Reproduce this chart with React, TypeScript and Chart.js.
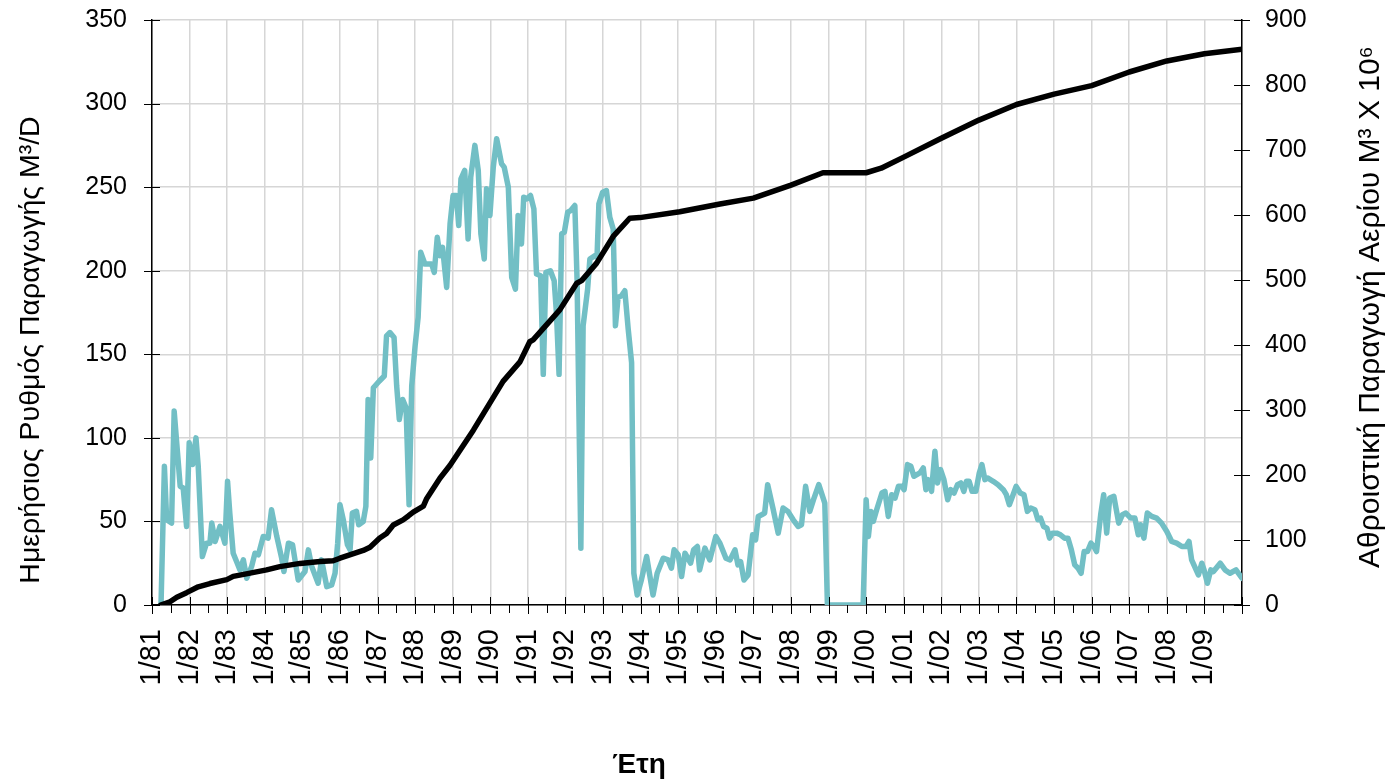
import React, { useEffect, useRef } from 'react';
import { Chart, registerables } from 'chart.js';

Chart.register(...registerables);

// Year ticks on the time axis (one per January)
const firstYear = 1981;
const lastYear = 2010;
const yearLabels = [
  '1/81', '1/82', '1/83', '1/84', '1/85', '1/86', '1/87', '1/88', '1/89', '1/90',
  '1/91', '1/92', '1/93', '1/94', '1/95', '1/96', '1/97', '1/98', '1/99', '1/00',
  '1/01', '1/02', '1/03', '1/04', '1/05', '1/06', '1/07', '1/08', '1/09',
];

// Daily production rate (M3/D), dated in fractional years
const rateYears = [
  1981.24, 1981.33, 1981.39, 1981.52, 1981.59, 1981.75, 1981.83, 1981.92, 1981.99, 1982.08,
  1982.17, 1982.23, 1982.34, 1982.45, 1982.54, 1982.59, 1982.68, 1982.81, 1982.94, 1983.01,
  1983.07, 1983.16, 1983.25, 1983.34, 1983.43, 1983.52, 1983.65, 1983.74, 1983.83, 1983.96,
  1984.09, 1984.18, 1984.32, 1984.45, 1984.51, 1984.63, 1984.74, 1984.89, 1985.07, 1985.16,
  1985.25, 1985.42, 1985.51, 1985.65, 1985.78, 1985.87, 1985.94, 1986.0, 1986.09, 1986.2,
  1986.27, 1986.33, 1986.44, 1986.5, 1986.62, 1986.69, 1986.75, 1986.82, 1986.89, 1987.05,
  1987.18, 1987.24, 1987.33, 1987.44, 1987.51, 1987.58, 1987.67, 1987.76, 1987.84, 1987.91,
  1988.0, 1988.08, 1988.15, 1988.26, 1988.44, 1988.51, 1988.59, 1988.66, 1988.73, 1988.84,
  1988.93, 1989.01, 1989.1, 1989.16, 1989.22, 1989.32, 1989.41, 1989.48, 1989.59, 1989.68,
  1989.75, 1989.84, 1989.9, 1989.99, 1990.08, 1990.17, 1990.3, 1990.37, 1990.48, 1990.57,
  1990.67, 1990.74, 1990.83, 1990.89, 1990.97, 1991.07, 1991.16, 1991.23, 1991.34, 1991.41,
  1991.48, 1991.6, 1991.7, 1991.76, 1991.83, 1991.9, 1991.97, 1992.06, 1992.14, 1992.25,
  1992.31, 1992.41, 1992.47, 1992.59, 1992.65, 1992.78, 1992.84, 1992.89, 1992.99, 1993.09,
  1993.18, 1993.27, 1993.33, 1993.4, 1993.49, 1993.58, 1993.67, 1993.76, 1993.82, 1993.91,
  1994.02, 1994.16, 1994.33, 1994.44, 1994.6, 1994.73, 1994.82, 1994.89, 1995.0, 1995.09,
  1995.18, 1995.33, 1995.41, 1995.51, 1995.57, 1995.71, 1995.84, 1996.0, 1996.11, 1996.27,
  1996.38, 1996.51, 1996.59, 1996.66, 1996.75, 1996.86, 1996.98, 1997.06, 1997.13, 1997.22,
  1997.3, 1997.38, 1997.52, 1997.66, 1997.79, 1997.92, 1998.06, 1998.19, 1998.28, 1998.39,
  1998.5, 1998.6, 1998.74, 1998.9, 1998.97, 1999.92, 2000.0, 2000.06, 2000.13, 2000.19,
  2000.28, 2000.42, 2000.5, 2000.59, 2000.68, 2000.77, 2000.86, 2000.95, 2001.01, 2001.1,
  2001.19, 2001.27, 2001.43, 2001.52, 2001.59, 2001.65, 2001.74, 2001.83, 2001.9, 2001.98,
  2002.07, 2002.17, 2002.25, 2002.34, 2002.43, 2002.52, 2002.6, 2002.67, 2002.74, 2002.82,
  2002.92, 2003.01, 2003.08, 2003.16, 2003.23, 2003.38, 2003.51, 2003.65, 2003.73, 2003.81,
  2003.91, 2003.99, 2004.1, 2004.2, 2004.29, 2004.38, 2004.49, 2004.57, 2004.64, 2004.72,
  2004.81, 2004.88, 2004.96, 2005.07, 2005.17, 2005.28, 2005.37, 2005.46, 2005.55, 2005.64,
  2005.72, 2005.8, 2005.89, 2005.98, 2006.06, 2006.13, 2006.24, 2006.32, 2006.4, 2006.48,
  2006.59, 2006.72, 2006.82, 2006.91, 2007.04, 2007.15, 2007.24, 2007.3, 2007.39, 2007.48,
  2007.6, 2007.73, 2007.86, 2008.0, 2008.13, 2008.26, 2008.4, 2008.51, 2008.59, 2008.66,
  2008.84, 2008.93, 2008.99, 2009.08, 2009.17, 2009.24, 2009.42, 2009.55, 2009.68, 2009.84,
  2010.0,
];
const rateValues = [
  0, 83, 51, 49, 116, 71, 70, 47, 97, 84,
  100, 83, 29, 37, 37, 49, 38, 47, 37, 74,
  55, 31, 26, 21, 27, 16, 23, 31, 30, 41,
  40, 57, 41, 28, 20, 37, 36, 15, 20, 33,
  23, 13, 27, 11, 12, 19, 37, 60, 51, 36,
  33, 55, 56, 48, 50, 59, 123, 88, 130, 134,
  137, 161, 163, 160, 131, 111, 123, 118, 60, 131,
  155, 172, 211, 204, 204, 199, 220, 209, 214, 190,
  228, 245, 245, 227, 255, 260, 219, 256, 275, 260,
  222, 207, 249, 233, 262, 279, 264, 262, 250, 196,
  189, 233, 216, 244, 243, 245, 237, 198, 197, 138,
  199, 200, 194, 175, 138, 222, 223, 235, 236, 239,
  194, 34, 167, 189, 207, 209, 208, 240, 247, 248,
  232, 225, 167, 184, 185, 188, 165, 145, 19, 6,
  15, 29, 6, 19, 28, 27, 22, 33, 30, 17,
  31, 25, 33, 35, 21, 34, 27, 41, 37, 28,
  27, 33, 24, 26, 15, 18, 42, 39, 53, 54,
  55, 72, 58, 43, 58, 56, 51, 47, 48, 71,
  56, 63, 72, 61, 0, 0, 63, 41, 56, 50,
  57, 67, 68, 53, 66, 64, 71, 71, 69, 84,
  83, 77, 79, 82, 69, 75, 68, 92, 73, 81,
  75, 63, 69, 67, 72, 73, 68, 74, 74, 68,
  68, 79, 84, 75, 76, 74, 72, 69, 66, 60,
  66, 71, 67, 66, 56, 58, 57, 51, 52, 47,
  46, 40, 43, 43, 42, 40, 40, 33, 24, 22,
  19, 32, 32, 37, 35, 32, 54, 66, 43, 64,
  65, 49, 54, 55, 52, 52, 42, 48, 40, 55,
  53, 52, 49, 44, 38, 37, 35, 35, 38, 27,
  18, 25, 21, 13, 21, 20, 25, 21, 19, 21,
  16,
];

// Cumulative gas production (M3 x 10^6)
const cumYears = [
  1981.23, 1981.48, 1981.66, 1981.92, 1982.23, 1982.54, 1982.99, 1983.16, 1983.61, 1984.05,
  1984.4, 1984.94, 1985.47, 1985.82, 1986.0, 1986.62, 1986.8, 1987.06, 1987.24, 1987.42,
  1987.68, 1987.82, 1987.95, 1988.22, 1988.31, 1988.66, 1988.93, 1989.55, 1990.34, 1990.79,
  1991.05, 1991.14, 1991.85, 1992.3, 1992.43, 1992.83, 1993.27, 1993.71, 1993.98, 1995.04,
  1996.11, 1997.0, 1998.0, 1998.85, 2000.0, 2000.4, 2001.0, 2002.0, 2003.0, 2004.0,
  2005.0, 2006.0, 2007.0, 2008.0, 2009.0, 2010.0,
];
const cumValues = [
  0, 5, 12, 19, 28, 33, 39, 44, 49, 54,
  59, 64, 67, 68, 72, 84, 89, 103, 110, 123,
  131, 137, 143, 152, 164, 195, 215, 269, 344, 374,
  405, 408, 454, 495, 499, 526, 567, 595, 596, 605,
  617, 626, 646, 665, 665, 672, 689, 718, 746, 770,
  786, 799, 820, 837, 848, 855,
];

const leftTitle = 'Ημερήσιος Ρυθμός Παραγωγής M³/D';
const rightTitle = 'Αθροιστική Παραγωγή Αερίου M³ X 10⁶';
const xTitle = 'Έτη';

const FONT = '"Liberation Sans", Arial, Helvetica, sans-serif';
const TEAL = '#72bfc5';
const GRID = '#d6d6d6';

// Tick marks crossing the axes and the three axis titles
const axisDecor = {
  id: 'axisDecor',
  afterDraw(chart: any) {
    const { ctx, chartArea: a, scales } = chart;
    const x = scales.x;
    const y = scales.y;
    const y1 = scales.y1;
    ctx.save();
    ctx.strokeStyle = '#000';
    ctx.lineWidth = 1;
    ctx.beginPath();
    for (let yr = firstYear; yr <= lastYear; yr++) {
      const px = Math.round(x.getPixelForValue(yr)) + 0.5;
      ctx.moveTo(px, a.bottom - 8);
      ctx.lineTo(px, a.bottom + 9);
      if (yr < lastYear) {
        const ph = Math.round(x.getPixelForValue(yr + 0.5)) + 0.5;
        ctx.moveTo(ph, a.bottom);
        ctx.lineTo(ph, a.bottom + 8);
      }
    }
    for (let v = 0; v <= 350; v += 50) {
      const py = Math.round(y.getPixelForValue(v)) + 0.5;
      ctx.moveTo(a.left - 8, py);
      ctx.lineTo(a.left + 8, py);
    }
    for (let v = 0; v <= 900; v += 100) {
      const py = Math.round(y1.getPixelForValue(v)) + 0.5;
      ctx.moveTo(a.right - 8, py);
      ctx.lineTo(a.right + 8, py);
    }
    ctx.stroke();

    ctx.fillStyle = '#000';
    ctx.textAlign = 'center';
    ctx.textBaseline = 'middle';

    ctx.font = `28.5px ${FONT}`;
    ctx.save();
    ctx.translate(31, 350);
    ctx.rotate(-Math.PI / 2);
    ctx.fillText(leftTitle, 0, 0);
    ctx.restore();

    ctx.font = `30px ${FONT}`;
    ctx.save();
    ctx.translate(1371, 307);
    ctx.rotate(-Math.PI / 2);
    ctx.fillText(rightTitle, 0, 0);
    ctx.restore();

    ctx.font = `bold 28px ${FONT}`;
    ctx.fillText(xTitle, 639, 765);
    ctx.restore();
  },
};

export default function App() {
  const canvasRef = useRef<HTMLCanvasElement | null>(null);

  useEffect(() => {
    const canvas = canvasRef.current;
    if (!canvas) return;

    const rateData = rateYears.map((t, i) => ({ x: t, y: rateValues[i] }));
    const cumData = cumYears.map((t, i) => ({ x: t, y: cumValues[i] }));

    const fitVertical = (width: number) => (scale: any) => {
      scale.width = width;
      scale.paddingTop = 0;
      scale.paddingBottom = 0;
    };

    const chart = new Chart(canvas, {
      type: 'line',
      data: {
        datasets: [
          {
            label: 'Cumulative',
            data: cumData,
            yAxisID: 'y1',
            borderColor: '#000',
            borderWidth: 5.5,
            pointRadius: 0,
            tension: 0,
            borderJoinStyle: 'round',
            borderCapStyle: 'round',
            order: 0,
          },
          {
            label: 'Rate',
            data: rateData,
            yAxisID: 'y',
            borderColor: TEAL,
            borderWidth: 5.5,
            pointRadius: 0,
            tension: 0,
            borderJoinStyle: 'round',
            borderCapStyle: 'round',
            order: 1,
          },
        ],
      },
      options: {
        responsive: false,
        maintainAspectRatio: false,
        animation: false,
        devicePixelRatio: 1,
        parsing: false,
        normalized: true,
        layout: { padding: { top: 20, left: 0, right: 0, bottom: 0 } },
        plugins: {
          legend: { display: false },
          tooltip: { enabled: false },
          title: { display: false },
        },
        scales: {
          x: {
            type: 'linear',
            min: firstYear,
            max: lastYear,
            afterBuildTicks: (scale: any) => {
              const ticks = [];
              for (let yr = firstYear; yr <= lastYear; yr++) ticks.push({ value: yr });
              scale.ticks = ticks;
            },
            afterFit: (scale: any) => {
              scale.height = 177;
              scale.paddingLeft = 0;
              scale.paddingRight = 0;
            },
            ticks: {
              autoSkip: false,
              maxRotation: 90,
              minRotation: 90,
              padding: 24,
              color: '#000',
              font: { family: FONT, size: 29 },
              callback: (value: any) => yearLabels[Math.round(Number(value)) - firstYear] ?? '',
            },
            grid: { color: GRID, lineWidth: 1.5, drawTicks: false },
            border: { display: true, color: '#000', width: 1.5 },
          },
          y: {
            type: 'linear',
            position: 'left',
            min: 0,
            max: 350,
            afterFit: fitVertical(152),
            ticks: {
              stepSize: 50,
              padding: 25,
              color: '#000',
              font: { family: FONT, size: 25 },
            },
            grid: { color: GRID, lineWidth: 1.5, drawTicks: false },
            border: { display: true, color: '#000', width: 1.5 },
          },
          y1: {
            type: 'linear',
            position: 'right',
            min: 0,
            max: 900,
            afterFit: fitVertical(151),
            ticks: {
              stepSize: 100,
              padding: 23,
              color: '#000',
              font: { family: FONT, size: 25 },
            },
            grid: { drawOnChartArea: false, drawTicks: false },
            border: { display: true, color: '#000', width: 1.5 },
          },
        },
      },
      plugins: [axisDecor],
    });

    return () => chart.destroy();
  }, []);

  return (
    <div
      style={{
        position: 'absolute',
        left: 0,
        top: 0,
        width: 1393,
        height: 782,
        background: '#fff',
      }}
    >
      <canvas ref={canvasRef} width={1393} height={782} />
    </div>
  );
}
